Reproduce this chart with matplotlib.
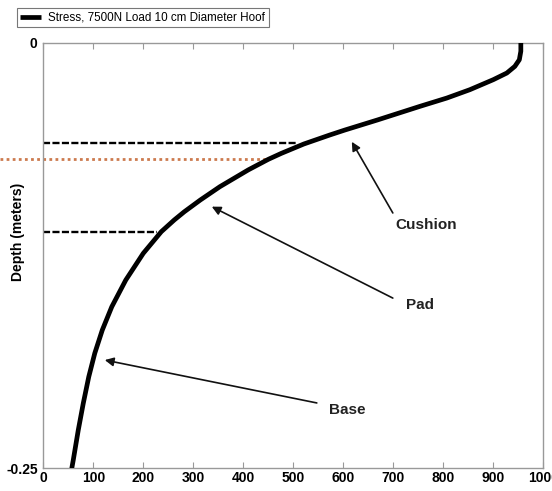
import matplotlib
matplotlib.use("Agg")
import matplotlib.pyplot as plt

plt.rcParams['font.family'] = ['Liberation Sans', 'DejaVu Sans']

# Stress profile through the hoof (stress vs depth)
stress = [955, 955, 952, 943, 927, 900, 853, 807, 753, 668, 603, 573, 521,
          476, 450, 410, 353, 314, 282, 262, 236, 200, 165, 137, 118, 103,
          91, 80, 70, 60, 57]
depth = [0.0, -0.005, -0.010, -0.0139, -0.0178, -0.0217, -0.0276, -0.0325,
         -0.0374, -0.0454, -0.0513, -0.0542, -0.0595, -0.0650, -0.0685,
         -0.0747, -0.0846, -0.0924, -0.0993, -0.1041, -0.1110, -0.1237,
         -0.1394, -0.1551, -0.1688, -0.1824, -0.1962, -0.2118, -0.2275,
         -0.2451, -0.25]

# Layer boundary markers
cushion_depth, cushion_stress = -0.0591, 510
mid_depth, mid_stress = -0.0685, 446
pad_depth, pad_stress = -0.1110, 227

# Layer annotations: label, text position, arrow tail, arrow tip
layer_labels = ["Cushion", "Pad", "Base"]
label_xy = [(765, -0.1071), (753, -0.1541), (607, -0.2158)]
arrow_tail = [(699, -0.1000), (699, -0.1500), (547, -0.2116)]
arrow_tip = [(617, -0.0582), (337, -0.0963), (123, -0.1864)]

xticks = [0, 100, 200, 300, 400, 500, 600, 700, 800, 900, 1000]
yticks = [0, -0.25]

fig = plt.figure(figsize=(5.52, 4.91), dpi=100)
ax = fig.add_axes([0.0784, 0.0462, 0.9059, 0.8668])

line, = ax.plot(stress, depth, color='black', lw=3.4, solid_capstyle='butt',
                solid_joinstyle='round',
                label='Stress, 7500N Load 10 cm Diameter Hoof', zorder=3)

ax.plot([0, cushion_stress], [cushion_depth, cushion_depth], color='black',
        lw=1.7, dashes=(3, 1), zorder=2)
ax.plot([0, pad_stress], [pad_depth, pad_depth], color='black',
        lw=1.7, dashes=(3, 1), zorder=2)
ax.plot([-87, mid_stress], [mid_depth, mid_depth], color='#cc7a4e',
        lw=2.0, dashes=(1, 1.2), clip_on=False, zorder=2)

for lab, (tx, ty), (ax0, ay0), (hx, hy) in zip(layer_labels, label_xy, arrow_tail, arrow_tip):
    ax.annotate('', xy=(hx, hy), xytext=(ax0, ay0),
                arrowprops=dict(arrowstyle='-|>', color='#111111', lw=1.2,
                                mutation_scale=13, shrinkA=0, shrinkB=0))
    ax.text(tx, ty, lab, fontsize=11, fontweight='bold', color='#222222',
            ha='center', va='center')

ax.set_xlim(0, 1000)
ax.set_ylim(-0.25, 0)
ax.set_xticks(xticks)
ax.set_xticklabels([str(t) for t in xticks], fontsize=10, fontweight='bold')
ax.set_yticks(yticks)
ax.set_yticklabels(['0', '-0.25'], fontsize=10, fontweight='bold')
ax.tick_params(axis='x', direction='in', top=True, length=4, color='#999999', pad=2)
ax.tick_params(axis='y', length=0, pad=4)
for s in ax.spines.values():
    s.set_color('#999999')
    s.set_linewidth(1.0)

fig.text(18 / 552, 1 - 231.5 / 491, 'Depth (meters)', rotation=90,
         fontsize=10, fontweight='bold', ha='center', va='center')

leg = fig.legend(handles=[line], loc='upper left',
                 bbox_to_anchor=(16.7 / 552, 1 - 8.3 / 491), borderaxespad=0,
                 fontsize=8.4, frameon=True, fancybox=False, handlelength=1.8,
                 borderpad=0.3, handletextpad=0.6)
leg.get_frame().set_edgecolor('#555555')
leg.get_frame().set_linewidth(0.8)
leg.legend_handles[0].set_linewidth(3.4)

fig.savefig('out.png', dpi=100)
